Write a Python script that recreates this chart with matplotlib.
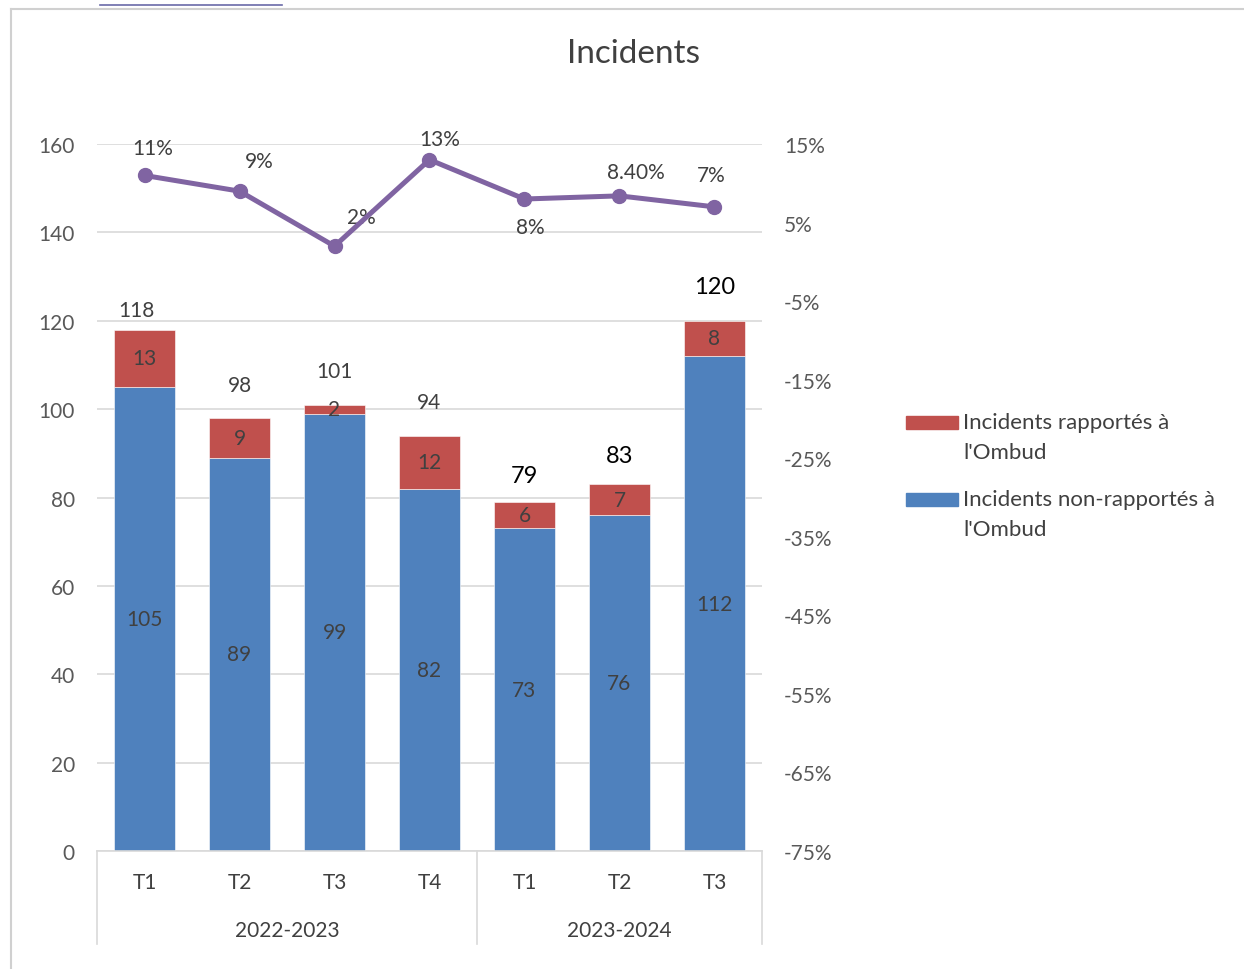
import numpy as np
import matplotlib.pyplot as plt
from matplotlib.patches import Rectangle
from matplotlib.lines import Line2D

plt.rcParams['font.family'] = ['Lato', 'DejaVu Sans']

# quarterly incident counts
quarters = ["T1", "T2", "T3", "T4", "T1", "T2", "T3"]
years = ["2022-2023", "2023-2024"]
year_sizes = [4, 3]
non_reported = [105, 89, 99, 82, 73, 76, 112]
reported = [13, 9, 2, 12, 6, 7, 8]
totals = [118, 98, 101, 94, 79, 83, 120]
pct_reported = [0.11, 0.09, 0.02, 0.13, 0.08, 0.084, 0.07]
pct_labels = ["11%", "9%", "2%", "13%", "8%", "8.40%", "7%"]
legend_labels = [["Incidents rapportés à", "l'Ombud"],
                 ["Incidents non-rapportés à", "l'Ombud"]]

BLUE = "#4F81BD"
RED = "#C0504D"
PURPLE = "#8064A2"
TXT = "#404040"
GRID = "#D9D9D9"
FS = 15

fig = plt.figure(figsize=(12.44, 9.70), dpi=100)
ax = fig.add_axes([0.078, 0.1216, 0.5345, 0.7289])
x = np.arange(len(quarters))

ax.bar(x, non_reported, width=0.64, color=BLUE, edgecolor="white", linewidth=0.4, zorder=2)
ax.bar(x, reported, width=0.64, bottom=non_reported, color=RED, edgecolor="white",
       linewidth=0.4, zorder=2)

ax.set_xlim(-0.5, len(quarters) - 0.5)
ax.set_ylim(0, 160)
ax.set_yticks(range(0, 161, 20))
ax.grid(axis="y", color=GRID, linewidth=1.2, zorder=0)
ax.set_xticks([])
for s in ["top", "right", "left"]:
    ax.spines[s].set_visible(False)
ax.spines["bottom"].set_color(GRID)
ax.spines["bottom"].set_linewidth(1.2)
ax.tick_params(axis="y", length=0, pad=16, labelsize=FS, labelcolor="#595959")

# segment values and totals
for i in range(len(x)):
    ax.text(x[i], non_reported[i] / 2, str(non_reported[i]), ha="center", va="center",
            fontsize=FS, color=TXT, zorder=3)
    ax.text(x[i], non_reported[i] + reported[i] / 2, str(reported[i]), ha="center",
            va="center", fontsize=FS, color=TXT, zorder=3)

total_offsets = [14, 24, 24, 24, 19, 21, 25]
total_colors = [TXT, TXT, TXT, TXT, "black", "black", "black"]
total_sizes = [FS, FS, FS, FS, 17, 17, 17]
for i in range(len(x)):
    ax.annotate(str(totals[i]), (x[i], totals[i]), xytext=(-6 if i == 0 else 0, total_offsets[i]),
                textcoords="offset points", ha="center", va="center",
                fontsize=total_sizes[i], color=total_colors[i])

# two-level category axis
for i, q in enumerate(quarters):
    ax.text(x[i], -0.044, q, transform=ax.get_xaxis_transform(), ha="center", va="center",
            fontsize=FS, color=TXT)
start = 0
bounds = [-0.5]
for name, n in zip(years, year_sizes):
    mid = start + (n - 1) / 2
    ax.text(mid, -0.111, name, transform=ax.get_xaxis_transform(), ha="center", va="center",
            fontsize=FS, color=TXT)
    start += n
    bounds.append(start - 0.5)
for b in bounds:
    ax.add_line(Line2D([b, b], [0, -0.131], transform=ax.get_xaxis_transform(),
                       color=GRID, linewidth=1.2, clip_on=False))

# secondary axis: share reported
ax2 = ax.twinx()
ax2.plot(x, pct_reported, color=PURPLE, linewidth=3.6, marker="o", markersize=10, zorder=4)
ax2.set_ylim(-0.75, 0.15)
ax2.set_yticks(np.arange(-0.75, 0.151, 0.10))
ax2.set_yticklabels([f"{v * 100:.0f}%" for v in np.arange(-0.75, 0.151, 0.10)])
ax2.tick_params(axis="y", length=0, pad=16, labelsize=FS, labelcolor="#595959")
for s in ax2.spines.values():
    s.set_visible(False)

pct_offsets = [(6, 20), (14, 22), (19, 21), (7, 15), (4, -20), (12, 17), (-2, 23)]
for i in range(len(x)):
    ax2.annotate(pct_labels[i], (x[i], pct_reported[i]), xytext=pct_offsets[i],
                 textcoords="offset points", ha="center", va="center", fontsize=FS, color=TXT)

fig.text(0.509, 0.944, "Incidents", ha="center", va="center", fontsize=24, color=TXT)

# legend drawn beside the plot, one swatch per series
H = 970
for color, lines, top in zip([RED, BLUE], legend_labels, [417, 494]):
    fig.patches.append(Rectangle((0.7283, 1 - (top + 13) / H), 0.0418, 13 / H,
                                 transform=fig.transFigure, color=color))
    for k, line in enumerate(lines):
        fig.text(0.7745, 1 - (top + 12.5 + 30 * k) / H, line, ha="left", va="baseline",
                 fontsize=16, color=TXT, transform=fig.transFigure)

# outer chart frame
fig.add_artist(Line2D([0.0085, 0.0085], [0, 0.99], transform=fig.transFigure,
                      color="#D0D0D0", linewidth=1.5))
fig.add_artist(Line2D([0.0085, 1.0], [0.99, 0.99], transform=fig.transFigure,
                      color="#D0D0D0", linewidth=1.5))
fig.add_artist(Line2D([0.08, 0.227], [0.994, 0.994], transform=fig.transFigure,
                      color="#6A6AA8", linewidth=1.2))

fig.savefig("out.png", dpi=100)
